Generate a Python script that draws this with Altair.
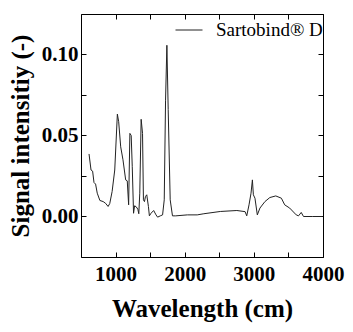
import altair as alt
import pandas as pd

wavenumber = [616, 645, 668, 688, 711, 735, 773, 821, 854, 892, 916, 950, 988, 1026, 1045,
              1074, 1107, 1146, 1169, 1189, 1207, 1226, 1241, 1260, 1275, 1298, 1322, 1336,
              1350, 1370, 1390, 1403, 1418, 1432, 1451, 1475, 1489, 1513, 1551, 1585, 1608,
              1647, 1680, 1704, 1723, 1742, 1761, 1790, 1823, 1870, 2038, 2181, 2277, 2515,
              2754, 2873, 2897, 2930, 2959, 2979, 2993, 3016, 3050, 3088, 3160, 3231, 3317,
              3398, 3446, 3518, 3613, 3646, 3685, 3718, 3852, 3995]
intensity = [0.0386, 0.0287, 0.028, 0.021, 0.020, 0.0144, 0.0099, 0.0092, 0.0082, 0.0062,
             0.008, 0.0154, 0.0287, 0.0632, 0.0585, 0.043, 0.035, 0.0226, 0.022, 0.0072,
             0.0513, 0.050, 0.031, 0.002, 0.0066, 0.006, 0.0045, 0.0017, 0.0144, 0.060,
             0.0513, 0.0103, 0.0092, 0.0123, 0.0134, 0.0062, 0.0004, 0.002, 0.0037, 0.001,
             -0.0004, 0.0004, 0.001, 0.0103, 0.0718, 0.1057, 0.066, 0.0103, 0.0004, 0.0004,
             0.001, 0.001, 0.0017, 0.0031, 0.0037, 0.003, 0.0004, 0.0072, 0.0144, 0.0226,
             0.0134, 0.0113, 0.001, 0.0052, 0.0092, 0.0117, 0.0127, 0.0113, 0.0072, 0.0052,
             0.001, 0.0004, 0.0025, 0.0, 0.0, 0.0]
series_name = "Sartobind® D"

x_ticks = [1000, 1500, 2000, 2500, 3000, 3500, 4000]
y_ticks = [-0.025, 0.0, 0.025, 0.05, 0.075, 0.1, 0.125]
x_labels = ["1000", "2000", "3000", "4000"]
y_labels = ["0.00", "0.05", "0.10"]

df = pd.DataFrame({"wn": wavenumber, "val": intensity, "series": series_name})

FONT = "Liberation Serif"
xscale = alt.Scale(domain=[500, 4000], nice=False, zero=False)
yscale = alt.Scale(domain=[-0.025, 0.125], nice=False, zero=False)

x_lab_expr = "indexof(" + str(x_labels) + ", datum.label) >= 0 ? datum.label : ''"
y_lab_expr = "indexof(" + str(y_labels) + ", datum.label) >= 0 ? datum.label : ''"

lab = dict(labelFont=FONT, labelFontSize=21, labelFontWeight="bold", labelColor="black",
           titleFont=FONT, titleFontSize=25, titleFontWeight="bold", titleColor="black",
           tickColor="black", tickWidth=1, labelFlush=False, labelOverlap=False)

main = alt.Chart(df).mark_line(strokeWidth=1).encode(
    x=alt.X("wn:Q", scale=xscale,
            axis=alt.Axis(orient="bottom", title="Wavelength (cm)", values=x_ticks,
                          format="d", labelExpr=x_lab_expr, offset=-5, tickSize=5,
                          labelPadding=6, titlePadding=12, grid=False, domain=False, **lab)),
    y=alt.Y("val:Q", scale=yscale,
            axis=alt.Axis(orient="left", title="Signal intensitiy (-)", values=y_ticks,
                          format=".2f", labelExpr=y_lab_expr, offset=-5, tickSize=5,
                          labelPadding=3, titlePadding=8, grid=False, domain=False, **lab)),
    color=alt.Color("series:N", scale=alt.Scale(range=["#222222"]),
                    legend=alt.Legend(title=None, orient="none", legendX=94, legendY=2,
                                      symbolType="stroke", symbolSize=729,
                                      symbolStrokeWidth=1, labelFont=FONT,
                                      labelFontSize=19, labelColor="black",
                                      labelOffset=13, padding=0)),
    order="wn:Q",
)

mirror = alt.Chart(df).mark_line(strokeWidth=0, opacity=0).encode(
    x=alt.X("wn:Q", scale=xscale,
            axis=alt.Axis(orient="top", title=None, values=x_ticks, labels=False,
                          offset=-5, tickSize=5, grid=False, domain=False,
                          tickColor="black", tickWidth=1)),
    y=alt.Y("val:Q", scale=yscale,
            axis=alt.Axis(orient="right", title=None, values=y_ticks, labels=False,
                          offset=-5, tickSize=5, grid=False, domain=False,
                          tickColor="black", tickWidth=1)),
)

chart = alt.layer(main, mirror).resolve_axis(x="independent", y="independent").properties(
    width=242, height=243,
    autosize=alt.AutoSizeParams(type="none"),
    padding={"left": 73, "top": 6, "right": 22, "bottom": 67},
).configure_view(stroke="black", strokeWidth=1)

chart.save("out.html", embed_options={"renderer": "svg", "actions": False})
